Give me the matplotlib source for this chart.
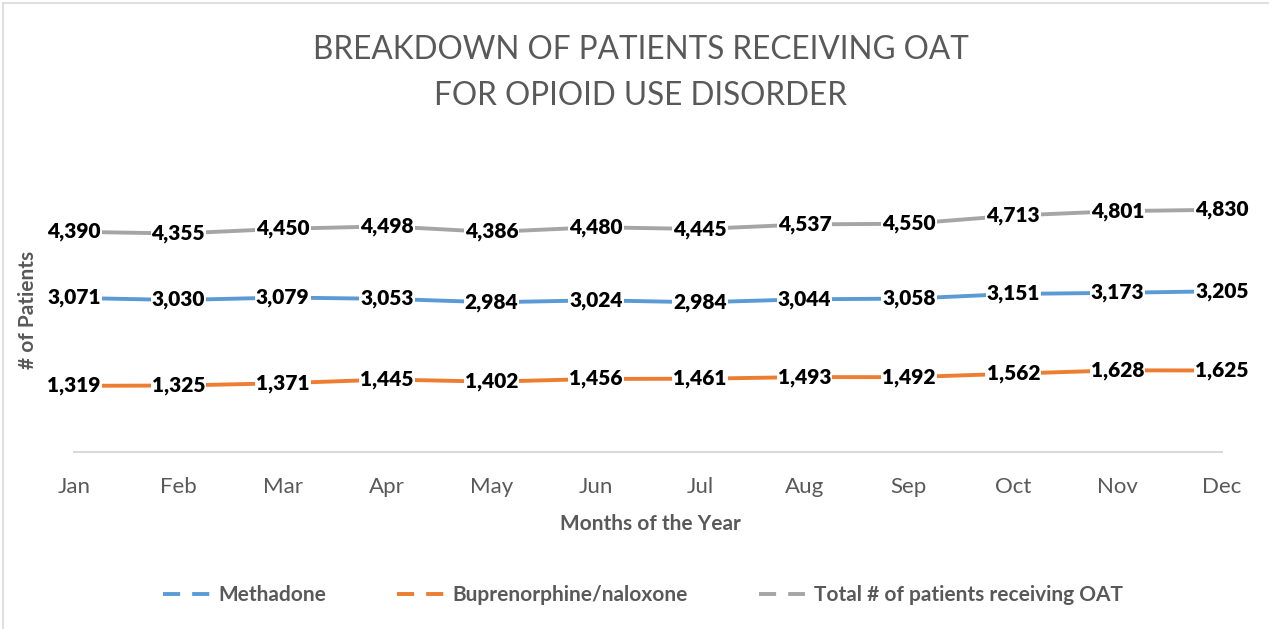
import matplotlib
matplotlib.use("Agg")
import matplotlib.pyplot as plt
from matplotlib.lines import Line2D

months = ["Jan", "Feb", "Mar", "Apr", "May", "Jun", "Jul", "Aug", "Sep", "Oct", "Nov", "Dec"]
methadone = [3071, 3030, 3079, 3053, 2984, 3024, 2984, 3044, 3058, 3151, 3173, 3205]
buprenorphine = [1319, 1325, 1371, 1445, 1402, 1456, 1461, 1493, 1492, 1562, 1628, 1625]
total = [4390, 4355, 4450, 4498, 4386, 4480, 4445, 4537, 4550, 4713, 4801, 4830]

series_names = ["Methadone", "Buprenorphine/naloxone", "Total # of patients receiving OAT"]
colors = ["#5B9BD5", "#ED7D31", "#A5A5A5"]
title_lines = ["BREAKDOWN OF PATIENTS RECEIVING OAT", "FOR OPIOID USE DISORDER"]

W, H = 1269, 629
fig = plt.figure(figsize=(W / 100, H / 100), dpi=100)
FONT = "Lato"
TXT = "#595959"

ax = fig.add_axes([74 / W, 1 - 452 / H, (1222 - 74) / W, (452 - 151) / H])
x = list(range(len(months)))
for vals, c, name in zip([methadone, buprenorphine, total], colors, series_names):
    ax.plot(x, vals, color=c, lw=2.8, solid_capstyle="round", zorder=2)
    for xi, v in zip(x, vals):
        ax.text(xi, v, f"{v:,}", ha="center", va="center", fontsize=15,
                fontweight="heavy", family=FONT, color="black", zorder=3,
                bbox=dict(boxstyle="square,pad=0.05", fc="white", ec="none"))

ax.set_xlim(0, len(months) - 1)
ax.set_ylim(0, 6000)
ax.set_yticks([])
ax.set_xticks(x)
ax.set_xticklabels(months, family=FONT, fontsize=16, color=TXT)
ax.tick_params(axis="x", length=0, pad=18)
for s in ["top", "right", "left"]:
    ax.spines[s].set_visible(False)
ax.spines["bottom"].set_color("#D9D9D9")
ax.spines["bottom"].set_linewidth(1.5)

fig.text(650 / W, 1 - 524 / H, "Months of the Year", ha="center", va="center",
         family=FONT, fontsize=15, fontweight="bold", color=TXT)
fig.text(28 / W, 1 - 310 / H, "# of Patients", ha="center", va="center", rotation=90,
         family=FONT, fontsize=15, fontweight="bold", color=TXT)
for yy, line in zip([50, 96], title_lines):
    fig.text(641 / W, 1 - yy / H, line, ha="center", va="center", family=FONT,
             fontweight="normal", fontsize=22.7, color=TXT)

handles = [Line2D([0], [0], color=c, lw=2.8, ls=(0, (4.4, 3.1))) for c in colors]
leg = fig.legend(handles, series_names, loc="center", bbox_to_anchor=(643 / W, 1 - 595 / H),
                 ncol=3, frameon=False, handlelength=2.25, handletextpad=0.4,
                 columnspacing=3.4, prop=dict(family=FONT, weight="bold", size=15))
for t in leg.get_texts():
    t.set_color(TXT)

# outer frame (left and top edges)
fig.add_artist(Line2D([3 / W, 3 / W], [0, 1 - 3 / H], color="#D9D9D9", lw=1.2))
fig.add_artist(Line2D([3 / W, 1], [1 - 3 / H, 1 - 3 / H], color="#D9D9D9", lw=1.2))

fig.savefig("out.png", dpi=100)
